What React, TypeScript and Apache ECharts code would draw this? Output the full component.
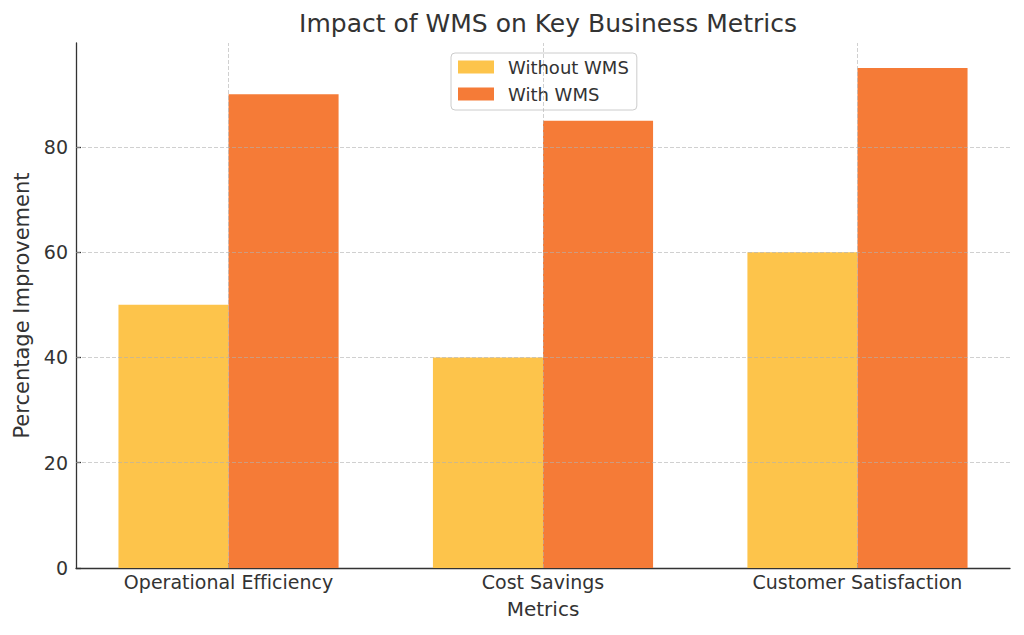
import React, { useEffect, useRef } from "react";
import * as echarts from "echarts";

const categories = ["Operational Efficiency", "Cost Savings", "Customer Satisfaction"];
const withoutWMS = [50, 40, 60];
const withWMS = [90, 85, 95];
const yTicks = [0, 20, 40, 60, 80];
const xPositions = [0, 1, 2];

const FONT = "DejaVu Sans";
const TXT = "#333333";

export default function App() {
  const ref = useRef<HTMLDivElement>(null);
  useEffect(() => {
    if (!ref.current) return;
    const chart = echarts.init(ref.current, undefined, { renderer: "svg" });
    const gridLine = { color: "#b0b0b0", width: 1, type: [4, 2] as any, opacity: 0.6 };
    chart.setOption({
      animation: false,
      backgroundColor: "#ffffff",
      textStyle: { fontFamily: FONT },
      title: {
        text: "Impact of WMS on Key Business Metrics",
        left: 543,
        textAlign: "center",
        top: 6,
        textStyle: { fontFamily: FONT, fontSize: 25, fontWeight: "normal", color: TXT },
      },
      legend: {
        orient: "vertical",
        left: 451,
        top: 53,
        itemWidth: 36,
        itemHeight: 13,
        itemGap: 9,
        padding: [5, 8, 7, 7],
        borderColor: "#cccccc",
        borderWidth: 1,
        borderRadius: 4,
        backgroundColor: "rgba(255,255,255,0.9)",
        icon: "rect",
        textStyle: { fontFamily: FONT, fontSize: 18, color: TXT, padding: [0, 0, 0, 9] },
        data: ["Without WMS", "With WMS"],
      },
      grid: { left: 76, right: 14, top: 43, bottom: 67, containLabel: false },
      xAxis: {
        type: "value",
        min: -0.485,
        max: 2.485,
        name: "Metrics",
        nameLocation: "middle",
        nameGap: 31,
        nameTextStyle: { fontFamily: FONT, fontSize: 20, color: TXT },
        axisLine: { show: true, onZero: false, lineStyle: { color: "#333", width: 1.3 } },
        axisTick: { show: true, inside: true, length: 5, customValues: xPositions, lineStyle: { color: "#333", width: 1.3 } },
        axisLabel: {
          customValues: xPositions,
          formatter: (v: number) => categories[Math.round(v)] ?? "",
          fontFamily: FONT,
          fontSize: 19,
          color: TXT,
          margin: 4,
        },
        splitLine: { show: false },
      },
      yAxis: {
        type: "value",
        min: 0,
        max: 99.75,
        name: "Percentage Improvement",
        nameLocation: "middle",
        nameGap: 43,
        nameTextStyle: { fontFamily: FONT, fontSize: 21, color: TXT },
        axisLine: { show: true, onZero: false, lineStyle: { color: "#333", width: 1.3 } },
        axisTick: { show: true, inside: true, length: 5, customValues: yTicks, lineStyle: { color: "#333", width: 1.3 } },
        axisLabel: { customValues: yTicks, fontFamily: FONT, fontSize: 19, color: TXT, margin: 8 },
        splitLine: { show: false },
      },
      series: [
        {
          name: "Without WMS",
          type: "bar",
          barWidth: "35%",
          barGap: "0%",
          itemStyle: { color: "#FDC44B" },
          data: xPositions.map((x, i) => [x, withoutWMS[i]]),
        },
        {
          name: "With WMS",
          type: "bar",
          barWidth: "35%",
          barGap: "0%",
          itemStyle: { color: "#F57B37" },
          data: xPositions.map((x, i) => [x, withWMS[i]]),
        },
        {
          name: "grid",
          type: "line",
          data: [],
          silent: true,
          markLine: {
            silent: true,
            symbol: "none",
            label: { show: false },
            lineStyle: gridLine,
            z: 5,
            data: [
              ...yTicks.filter((v) => v > 0).map((v) => ({ yAxis: v })),
              ...xPositions.map((v) => ({ xAxis: v })),
            ],
          },
        },
      ],
    });
    return () => chart.dispose();
  }, []);
  return (
    <div
      ref={ref}
      style={{ width: 1024, height: 635, position: "absolute", left: 0, top: 0, fontVariantLigatures: "none" }}
    />
  );
}
